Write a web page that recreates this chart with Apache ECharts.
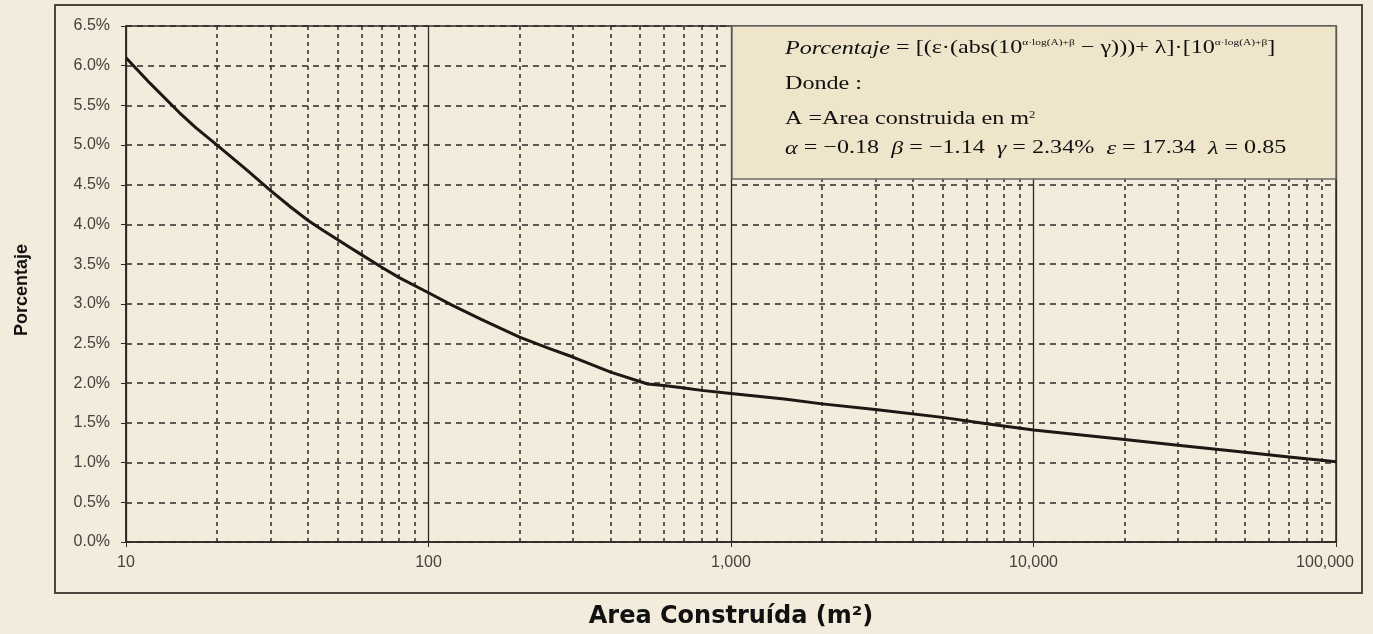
<!DOCTYPE html>
<html>
<head>
<meta charset="utf-8">
<script src="https://cdn.jsdelivr.net/npm/echarts@6/dist/echarts.min.js"></script>
<style>
html,body{margin:0;padding:0;background:#f3ebdc;}
#c{width:1373px;height:634px;}
</style>
</head>
<body>
<div id="c"></div>
<script>
// Area construida (m2) and percentage
const areas    = [10, 12, 15, 17, 20, 25, 30, 35, 40, 45, 50, 55, 60, 70, 80, 100, 120, 150, 200, 250, 300, 400, 530, 600, 700, 800, 1000, 1500, 2000, 3000, 5000, 7000, 10000, 20000, 30000, 50000, 70000, 100000];
const percents = [6.10, 5.78, 5.41, 5.22, 5.00, 4.69, 4.43, 4.22, 4.05, 3.92, 3.81, 3.71, 3.62, 3.46, 3.33, 3.14, 2.98, 2.80, 2.58, 2.44, 2.33, 2.14, 1.99, 1.97, 1.94, 1.91, 1.87, 1.80, 1.74, 1.67, 1.57, 1.49, 1.41, 1.29, 1.22, 1.13, 1.07, 1.01];
const yTicks = {min: 0, max: 6.5, step: 0.5};
const xRange = {min: 10, max: 100000};
const decades = [10, 100, 1000, 10000];
const minorMult = [2, 3, 4, 5, 6, 7, 8, 9];

const minorLines = [];
decades.forEach(d => minorMult.forEach(m => minorLines.push({xAxis: d * m})));

const chart = echarts.init(document.getElementById('c'), null, {renderer: 'canvas'});
const gridColor = '#2e2a26';
const serif = '"Liberation Serif"';
const SX = 1.27;
const option = {
  backgroundColor: '#f3ebdc',
  animation: false,
  grid: {left: 126, top: 26, right: 37, bottom: 92, show: true, borderColor: gridColor, borderWidth: 1.5, backgroundColor: 'transparent'},
  xAxis: {
    type: 'log', logBase: 10, min: xRange.min, max: xRange.max,
    name: 'Area Construída (m²)', nameLocation: 'middle', nameGap: 63,
    nameTextStyle: {fontFamily: 'DejaVu Sans', fontWeight: 'bold', fontSize: 24, color: '#111'},
    axisLine: {lineStyle: {color: gridColor, width: 1.5}},
    axisTick: {show: true, length: 5, lineStyle: {color: gridColor}},
    axisLabel: {fontFamily: 'Liberation Sans', fontSize: 16, color: '#45413d', margin: 13,
      formatter: v => {
        const s = Math.round(v).toLocaleString('en-US');
        return Math.round(v) === xRange.max ? '{r|' + s + '}' : s;
      },
      rich: {r: {fontFamily: 'Liberation Sans', fontSize: 16, color: '#45413d', padding: [0, 22, 0, 0]}}},
    splitLine: {show: true, lineStyle: {color: gridColor, width: 1.3, type: 'solid'}},
    minorTick: {show: false}
  },
  yAxis: {
    type: 'value', min: yTicks.min, max: yTicks.max, interval: yTicks.step,
    name: 'Porcentaje', nameLocation: 'middle', nameGap: 95, nameRotate: 90,
    nameTextStyle: {fontFamily: 'Liberation Sans', fontWeight: 'bold', fontSize: 18, color: '#111', padding: [0, 12, 0, 0]},
    axisLine: {show: true, lineStyle: {color: gridColor, width: 1.5}},
    axisTick: {show: true, inside: false, length: 5, lineStyle: {color: gridColor}},
    axisLabel: {fontFamily: 'Liberation Sans', fontSize: 16, color: '#45413d', margin: 16,
      formatter: v => v.toFixed(1) + '%'},
    splitLine: {show: true, lineStyle: {color: gridColor, width: 1.5, type: [6, 5]}}
  },
  series: [{
    type: 'line',
    data: areas.map((a, i) => [a, percents[i]]),
    showSymbol: false,
    smooth: false,
    lineStyle: {color: '#1c1814', width: 3, join: 'round'},
    z: 5,
    markLine: {
      silent: true, symbol: ['none', 'none'], label: {show: false},
      lineStyle: {color: gridColor, width: 1.5, type: [4, 4]},
      data: minorLines, z: 1
    }
  }],
  graphic: [{
    type: 'group', z: 100,
    children: [
      {type: 'rect', shape: {x: 732, y: 26, width: 604, height: 153},
       style: {fill: '#efe5ca', stroke: '#6e6a64', lineWidth: 1.5}, z: 100},
      {type: 'text', x: 785, y: 38, scaleX: SX, z: 101, style: {
        text: '{i|Porcentaje} = [(ε·(abs(10{s|α·log(A)+β} − γ)))+ λ]·[10{s|α·log(A)+β}]',
        font: '19px ' + serif, fill: '#111',
        rich: {
          i: {fontStyle: 'italic', fontSize: 19, fontFamily: 'Liberation Serif', fill: '#111'},
          s: {fontSize: 9, fontFamily: 'Liberation Serif', fill: '#111', verticalAlign: 'top', padding: [0, 0, 12, 0]}
        }}},
      {type: 'text', x: 785, y: 75, scaleX: SX, z: 101, style: {text: 'Donde :', font: '19px ' + serif, fill: '#111'}},
      {type: 'text', x: 785, y: 110, scaleX: SX, z: 101, style: {
        text: 'A =Area construida en m{s|2}', font: '19px ' + serif, fill: '#111',
        rich: {s: {fontSize: 10, fontFamily: 'Liberation Serif', fill: '#111', verticalAlign: 'top', padding: [0, 0, 9, 0]}}}},
      {type: 'text', x: 785, y: 139, scaleX: SX, z: 101, style: {
        text: '{i|α} = −0.18  {i|β} = −1.14  {i|γ} = 2.34%  {i|ε} = 17.34  {i|λ} = 0.85',
        font: '19px ' + serif, fill: '#111',
        rich: {i: {fontStyle: 'italic', fontSize: 19, fontFamily: 'Liberation Serif', fill: '#111'}}}}
    ]
  }, {
    type: 'rect', z: 0, silent: true,
    shape: {x: 55, y: 5, width: 1307, height: 588},
    style: {fill: 'none', stroke: '#4a4640', lineWidth: 2}
  }]
};
chart.setOption(option);
</script>
</body>
</html>
